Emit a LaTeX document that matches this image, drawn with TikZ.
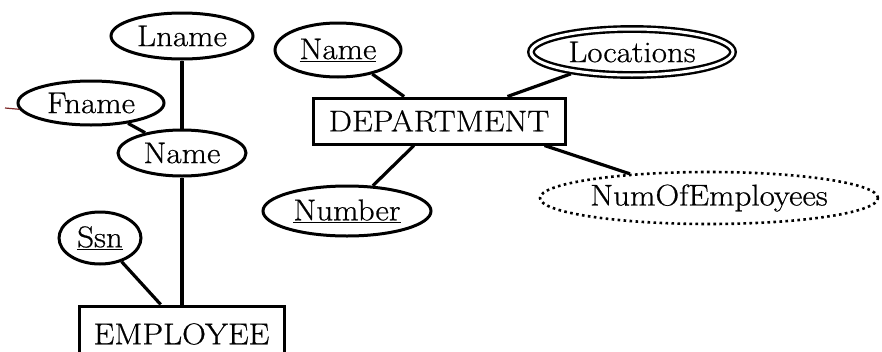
\documentclass[tikz,border=0pt]{standalone}
\usepackage{fontspec}
\setmainfont[FakeStretch=1.1,FakeBold=0.6]{Latin Modern Roman}
\usetikzlibrary{shapes.geometric,calc}
\newcommand\erfont{\fontsize{30}{34}\selectfont}
\begin{document}
\begin{tikzpicture}[x=1pt,y=-1pt,
  attr/.style={ellipse, draw, line width=3pt, inner xsep=-8pt, inner ysep=0pt, font=\erfont},
  multival/.style={attr, double, line width=2.4pt, double distance=3pt, outer sep=3.9pt},
  derived/.style={attr, line width=2.6pt, dash pattern=on 2.6pt off 3.4pt},
  entity/.style={rectangle, draw, line width=3pt, inner sep=0pt, font=\erfont},
  link/.style={line width=3.2pt}]
  \useasboundingbox (0,0) rectangle (882,351);
  \clip (0,0) rectangle (882,351);

  % EMPLOYEE side
  \node[attr, minimum width=142pt, minimum height=46pt] (lname) at (182,36) {Lname};
  \node[attr, minimum width=146pt, minimum height=44pt] (fname) at (91,103) {Fname};
  \node[attr, minimum width=128pt, minimum height=46pt] (ename) at (182,153) {Name};
  \node[attr, minimum width=82pt, minimum height=52pt] (ssn) at (100,238) {\underline{Ssn}};
  \node[entity, minimum width=205pt, minimum height=56pt] (emp) at (181.5,334) {EMPLOYEE};

  % DEPARTMENT side
  \node[attr, minimum width=126pt, minimum height=54pt] (dname) at (338,50) {\underline{Name}};
  \node[entity, minimum width=252pt, minimum height=46pt] (dept) at (439,121) {DEPARTMENT};
  \node[attr, minimum width=168pt, minimum height=50pt] (number) at (347,211) {\underline{Number}};
  \node[multival, minimum width=202pt, minimum height=46pt] (loc) at (632,52) {Locations};
  \node[derived, minimum width=338pt, minimum height=52pt] (noe) at (709,198) {NumOfEmployees};

  % connectors
  \coordinate (stub) at (5,108);
  \draw[line width=1.2pt, color={rgb,255:red,125;green,40;blue,40}] (stub) -- (fname.185);
  \draw[link] (lname) -- (ename);
  \draw[link] (fname) -- (ename);
  \draw[link] (ename.south) -- (ename.south |- emp.north);
  \draw[link] (ssn) -- ($(emp.north west)!0.4!(emp.north east)$);
  \draw[link] (dname) -- (dept);
  \draw[link] (number) -- (dept);
  \draw[link] (loc) -- (dept);
  \draw[link] ($(dept.south east)+(-22,0)$) -- (noe.163);
\end{tikzpicture}
\end{document}
